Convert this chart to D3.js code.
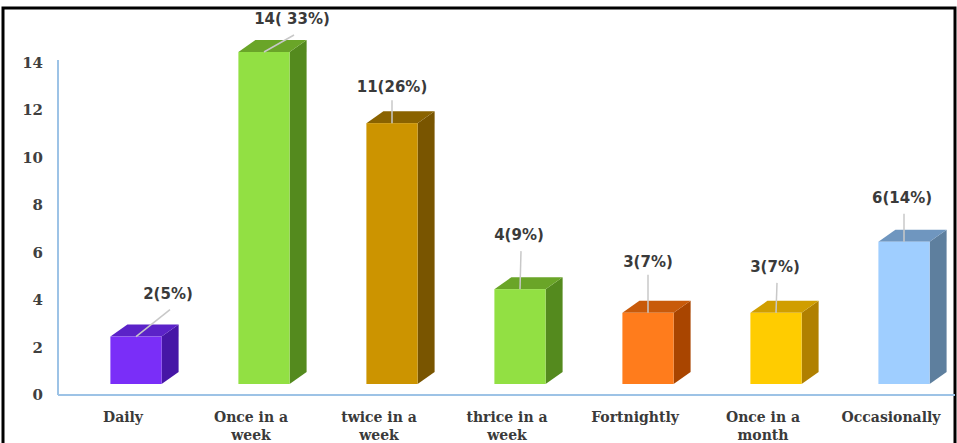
<!DOCTYPE html>
<html>
<head>
<meta charset="utf-8">
<script src="https://cdn.jsdelivr.net/npm/d3@7"></script>
<style>
  html, body { margin: 0; padding: 0; background: #fff; }
  svg { display: block; }
</style>
</head>
<body>
<div id="chart"></div>
<script>
// data
var categories = ["Daily", "Once in a week", "twice in a week", "thrice in a week",
                  "Fortnightly", "Once in a month", "Occasionally"];
var counts = [2, 14, 11, 4, 3, 3, 6];
var valueLabels = ["2(5%)", "14( 33%)", "11(26%)", "4(9%)", "3(7%)", "3(7%)", "6(14%)"];
var yTicks = [0, 2, 4, 6, 8, 10, 12, 14];

// styles: front / top / side faces for each bar
var frontColors = ["#7a2ef8", "#92e043", "#cc9400", "#92e043", "#ff7c1c", "#ffcc00", "#9fceff"];
var topColors   = ["#5b22c8", "#6aa528", "#8a6300", "#6aa528", "#c85a0a", "#d09e00", "#6f96bf"];
var sideColors  = ["#4616a6", "#548a1e", "#795500", "#548a1e", "#a94500", "#b08000", "#5e7f9e"];

var W = 957, H = 443;
var depthX = 17, depthY = 12, lift = 11;

var svg = d3.select("#chart").append("svg")
  .attr("width", W).attr("height", H);

var x = d3.scaleBand()
  .domain(categories)
  .range([72, 968])
  .paddingInner(0.6)
  .paddingOuter(0.3);

var y = d3.scaleLinear()
  .domain([0, 14])
  .range([395, 63]);

// frame
svg.append("path")
  .attr("d", "M3,450 L3,8 L955,8 L955,450")
  .attr("fill", "none")
  .attr("stroke", "#000")
  .attr("stroke-width", 3);

// axis lines
var axisColor = "#9dc3e6";
svg.append("line")
  .attr("x1", 58).attr("x2", 58)
  .attr("y1", y(14) - 3).attr("y2", y(0))
  .attr("stroke", axisColor).attr("stroke-width", 2);
svg.append("line")
  .attr("x1", 58).attr("x2", 955)
  .attr("y1", y(0)).attr("y2", y(0))
  .attr("stroke", axisColor).attr("stroke-width", 2);

// y tick labels
svg.selectAll("text.ytick")
  .data(yTicks)
  .enter().append("text")
  .attr("class", "ytick")
  .attr("x", 43)
  .attr("y", function(d) { return y(d) + 5; })
  .attr("text-anchor", "end")
  .attr("font-family", "DejaVu Serif")
  .attr("font-weight", "bold")
  .attr("font-size", 15)
  .attr("fill", "#404040")
  .text(function(d) { return d; });

// 3d bars
var bars = svg.selectAll("g.bar")
  .data(counts)
  .enter().append("g")
  .attr("class", "bar");

bars.each(function(v, i) {
  var g = d3.select(this);
  var x0 = x(categories[i]), bw = x.bandwidth();
  var yt = y(v) - lift, yb = y(0) - lift;
  // side face
  g.append("path")
    .attr("d", "M" + (x0 + bw) + "," + yt +
               " L" + (x0 + bw + depthX) + "," + (yt - depthY) +
               " L" + (x0 + bw + depthX) + "," + (yb - depthY) +
               " L" + (x0 + bw) + "," + yb + " Z")
    .attr("fill", sideColors[i]);
  // top face
  g.append("path")
    .attr("d", "M" + x0 + "," + yt +
               " L" + (x0 + depthX) + "," + (yt - depthY) +
               " L" + (x0 + bw + depthX) + "," + (yt - depthY) +
               " L" + (x0 + bw) + "," + yt + " Z")
    .attr("fill", topColors[i]);
  // front face
  g.append("rect")
    .attr("x", x0).attr("y", yt)
    .attr("width", bw).attr("height", yb - yt)
    .attr("fill", frontColors[i]);
});

// value labels with leader lines
var labelNudge = [[32, 38], [28, 28], [0, 31], [-1, 49], [0, 46], [-1, 41], [-2, 39]];

bars.each(function(v, i) {
  var g = d3.select(this);
  var cx = x(categories[i]) + x.bandwidth() / 2;
  var yt = y(v) - lift;
  var lx = cx + labelNudge[i][0];
  var ly = yt - labelNudge[i][1];
  g.append("line")
    .attr("x1", lx + (labelNudge[i][0] ? 2 : 0))
    .attr("y1", ly + (labelNudge[i][0] ? 11 : 8))
    .attr("x2", cx).attr("y2", yt)
    .attr("stroke", "#c8c8c8").attr("stroke-width", 1.5);
  g.append("text")
    .attr("x", lx).attr("y", ly)
    .attr("text-anchor", "middle")
    .attr("font-family", "DejaVu Sans")
    .attr("font-weight", "bold")
    .attr("font-size", 15)
    .attr("fill", "#3a3a3a")
    .text(valueLabels[i]);
});

// category labels
svg.selectAll("text.cat")
  .data(categories)
  .enter().append("text")
  .attr("class", "cat")
  .attr("text-anchor", "middle")
  .attr("font-family", "DejaVu Serif")
  .attr("font-weight", "bold")
  .attr("font-size", 14)
  .attr("fill", "#3a3a3a")
  .each(function(d) {
    var cx = x(d) + x.bandwidth() / 2 - 13;
    var m = d.match(/^(.* in a) (.*)$/);
    var lines = m ? [m[1], m[2]] : [d];
    var t = d3.select(this);
    lines.forEach(function(s, k) {
      t.append("tspan").attr("x", cx).attr("y", 422 + k * 18).text(s);
    });
  });
</script>
</body>
</html>
